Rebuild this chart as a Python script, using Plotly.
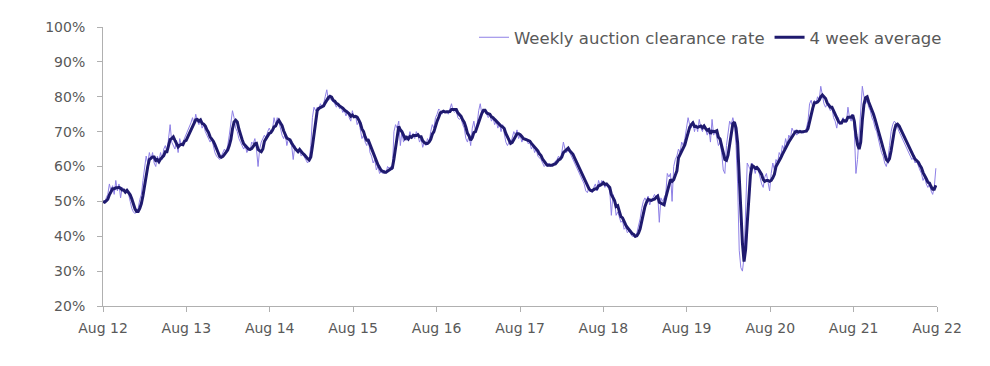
import pandas as pd
import plotly.graph_objects as go

# Weekly auction clearance rate (%), one list per year starting each August
wk_2012 = [50, 49.5, 51, 52, 55, 53, 54.5, 52, 56, 53,
           55, 51, 54, 53, 52.5, 53, 52, 50, 48, 47,
           46.5, 47, 48, 50.5, 52, 56, 60, 63, 61, 64,
           62, 64, 61, 60, 63, 61.5, 64, 62, 65, 66,
           64, 69, 72, 67, 66, 65, 67.5, 64, 68, 66,
           67, 68]
wk_2013 = [69, 70, 71, 72.5, 74, 72, 75, 73, 72, 73.5,
           71, 72, 70, 69, 68, 67, 68, 66, 64, 63,
           62.5, 62, 63, 64, 65, 64, 66, 69, 72, 76,
           74, 71, 70, 68, 67, 66, 65, 66, 64, 65,
           64.5, 67, 66.5, 68, 65, 60, 65, 67, 68, 69,
           68, 70]
wk_2014 = [71, 70, 70.5, 74, 72, 74, 73, 71, 69, 68,
           69.5, 66, 68, 67, 66, 62, 66, 65, 64, 64.5,
           63, 63.5, 62.5, 62, 61, 62, 66, 74, 77, 76,
           77, 76.5, 78, 77, 78, 80, 82, 79, 79.5, 79,
           78.5, 78, 77, 78, 76.5, 77, 75.5, 76, 74.5, 76,
           74, 73]
wk_2015 = [76, 74, 74.5, 72, 73, 70, 68, 69, 67, 66,
           68, 64, 63, 61, 62, 59, 60, 58, 58.5, 58,
           59, 58, 60, 59.5, 60, 59, 70, 72, 71, 73,
           66, 70, 67, 69, 67.5, 68, 70, 68, 69.5, 68,
           70, 69, 67, 68, 65.5, 67, 66, 68, 67, 70,
           72, 71]
wk_2016 = [74, 75, 76.5, 76, 75, 76, 75.5, 76, 75, 76.5,
           78, 76, 75.5, 76, 74, 73.5, 74, 72, 71, 68,
           67, 69, 66, 71, 73, 70, 72, 76, 78, 75,
           75.5, 76, 75, 74, 75, 73, 74, 72, 73, 71,
           72.5, 70, 72, 69, 67, 66, 67, 66.5, 68, 70,
           69, 70.5]
wk_2017 = [68, 69, 67, 68, 67.5, 68, 66.5, 67, 65, 66,
           64, 65, 63, 62.5, 62, 61, 60, 60.5, 60, 61,
           60, 60.5, 61, 61.5, 62, 63, 62, 64, 67, 65,
           64, 65, 64, 63, 62, 61, 60, 59, 58, 57,
           56, 55, 53, 52.5, 54, 53, 52.5, 54, 55, 53,
           56, 54.5]
wk_2018 = [56, 55, 54, 55, 54, 53, 46, 52, 50, 46,
           47, 45.5, 44, 44.5, 42, 42.5, 41, 41.5, 40.5, 40,
           40, 39.5, 41, 43, 45, 48, 50, 51, 50, 51.5,
           49, 50.5, 51, 52, 51, 52, 44, 51, 50, 51,
           52, 58, 57, 58, 50, 60, 62, 63, 65, 64,
           67, 66]
wk_2019 = [68, 71, 74, 72, 71, 73, 70, 72, 70, 73.5,
           71, 70, 72, 70.5, 69, 71, 67, 73.5, 69, 70.5,
           68, 66, 67, 64, 59, 58, 66, 70, 73, 72,
           74, 72, 66, 55, 36, 31, 30, 34, 50, 61,
           60, 59, 61, 60, 58, 60, 59, 57, 55, 54,
           57, 58]
wk_2020 = [55, 53, 58, 61, 59, 62, 61, 64, 63, 66,
           65, 68, 66, 69, 68, 71, 70, 70.5, 69, 70,
           70.5, 70, 69.5, 70, 71, 73, 78, 79, 77, 79,
           78, 80, 79, 83, 80, 78, 77, 78, 77, 76,
           77, 74, 73, 71, 74, 72, 73, 74, 73, 72.5,
           77, 74]
wk_2021 = [73, 75, 70, 58, 62, 70, 78, 83, 80, 78,
           79, 77, 76, 74, 73, 71, 70, 68, 66, 64,
           63, 61, 60, 62, 66, 70, 72, 73, 72.5, 71,
           70, 69, 68, 67, 66, 65, 64.5, 63, 62, 62.5,
           61, 61.5, 60, 59, 58, 56, 57, 55, 54, 55,
           53, 52, 54, 59.5]

first_week = "2012-08-01"
tick_dates = ["2012-08-01", "2013-08-01", "2014-08-01", "2015-08-01", "2016-08-01",
              "2017-08-01", "2018-08-01", "2019-08-01", "2020-08-01", "2021-08-01",
              "2022-08-01"]
tick_labels = ["Aug 12", "Aug 13", "Aug 14", "Aug 15", "Aug 16", "Aug 17",
               "Aug 18", "Aug 19", "Aug 20", "Aug 21", "Aug 22"]
y_ticks = [0.2, 0.3, 0.4, 0.5, 0.6, 0.7, 0.8, 0.9, 1.0]

weekly = (wk_2012 + wk_2013 + wk_2014 + wk_2015 + wk_2016 +
          wk_2017 + wk_2018 + wk_2019 + wk_2020 + wk_2021)
dates = pd.date_range(first_week, periods=len(weekly), freq="7D")
s = pd.Series(weekly, index=dates) / 100.0
avg4 = s.rolling(4, min_periods=1).mean()

fig = go.Figure()
fig.add_trace(go.Scatter(x=dates, y=s.values, mode="lines",
                         name="Weekly auction clearance rate",
                         line=dict(color="#8E80E6", width=1)))
fig.add_trace(go.Scatter(x=dates, y=avg4.values, mode="lines",
                         name="4 week average",
                         line=dict(color="#1F1A6E", width=3)))

axis_col = "#B0B0B0"
text_col = "#595959"
fig.update_layout(
    width=982, height=358,
    margin=dict(l=95, r=53, t=12, b=60),
    paper_bgcolor="white", plot_bgcolor="white",
    font=dict(family="DejaVu Sans, Open Sans, sans-serif", size=14, color=text_col),
    legend=dict(orientation="h", x=1.012, xanchor="right", y=1.025, yanchor="top",
                font=dict(size=16.5, color=text_col), bgcolor="rgba(0,0,0,0)",
                itemwidth=30, tracegroupgap=0),
    showlegend=True,
)
fig.update_xaxes(range=[tick_dates[0], tick_dates[-1]], tickvals=tick_dates,
                 ticktext=tick_labels, showgrid=False, zeroline=False,
                 showline=True, linecolor=axis_col, linewidth=1,
                 ticks="outside", ticklen=5, tickcolor=axis_col,
                 ticklabelstandoff=4,
                 tickfont=dict(size=14, color=text_col))
fig.update_yaxes(range=[0.2, 1.0], tickvals=y_ticks, tickformat=".0%",
                 showgrid=False, zeroline=False,
                 showline=True, linecolor=axis_col, linewidth=1,
                 ticks="outside", ticklen=5, tickcolor=axis_col,
                 ticklabelstandoff=9,
                 tickfont=dict(size=14, color=text_col))

fig.write_html("out.html")
